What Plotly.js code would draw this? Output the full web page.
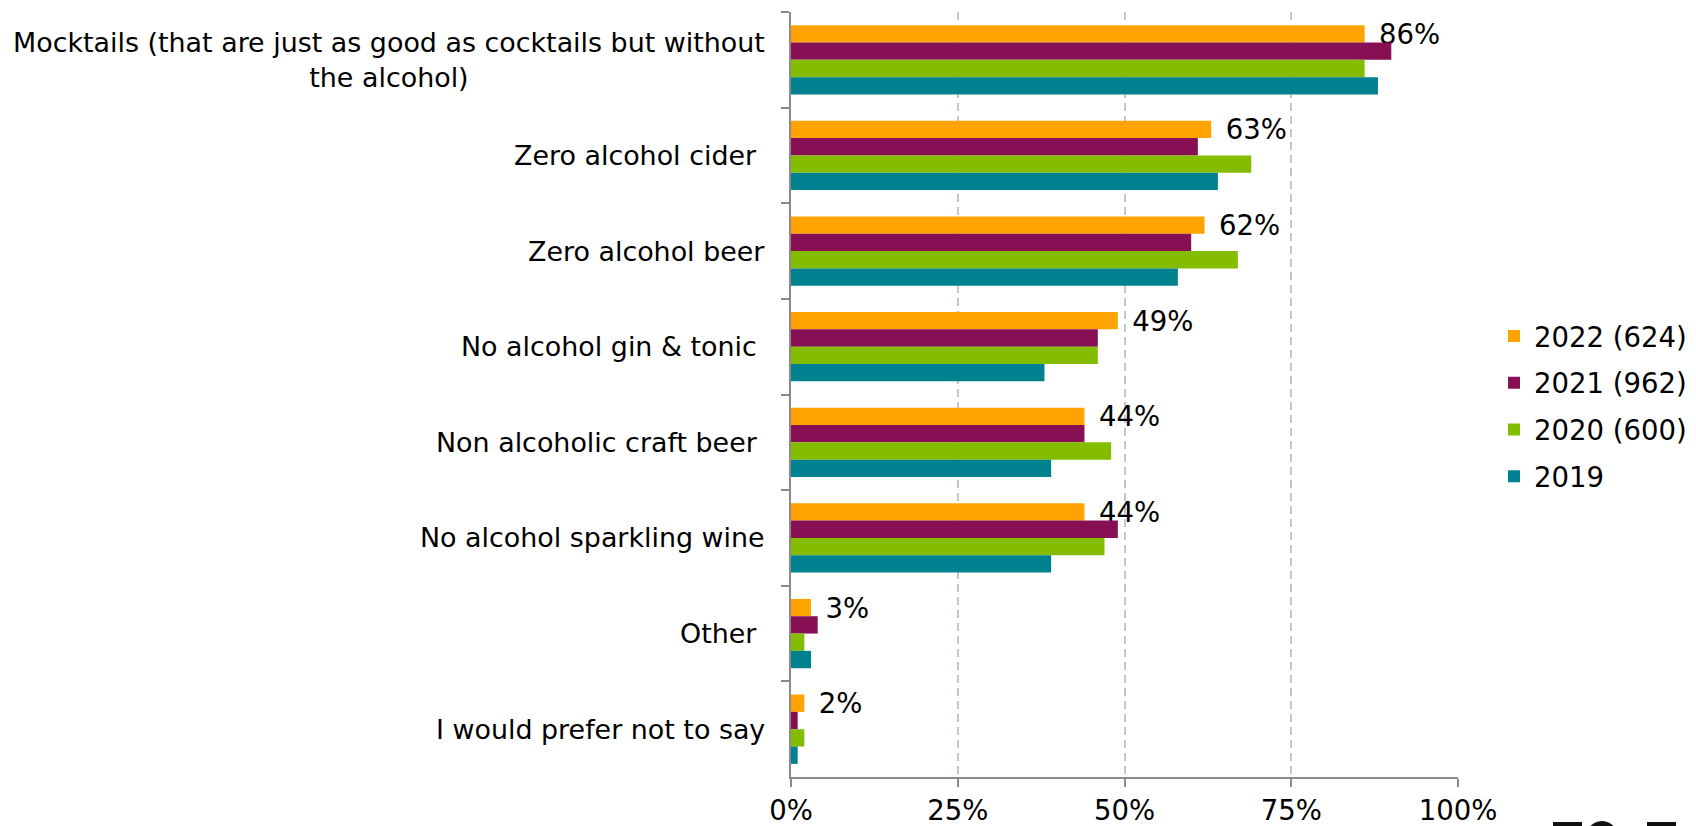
<!DOCTYPE html>
<html>
<head>
<meta charset="utf-8">
<script src="https://cdn.plot.ly/plotly-3.0.1.min.js"></script>
<style>
  html, body { margin: 0; padding: 0; background: #fff; }
  #chart { width: 1696px; height: 826px; }
</style>
</head>
<body>
<div id="chart"></div>
<script>
// Preferred non-alcoholic drinks, share of respondents by survey year
const categories = [
  "Mocktails (that are just as good as cocktails but without<br>the alcohol)",
  "Zero alcohol cider\u00a0",
  "Zero alcohol beer",
  "No alcohol gin & tonic\u00a0",
  "Non alcoholic craft beer\u00a0",
  "No alcohol sparkling wine",
  "Other\u00a0",
  "I would prefer not to say"
];

const seriesNames = ["2022 (624)", "2021 (962)", "2020 (600)", "2019"];

const values2022 = [86, 63, 62, 49, 44, 44, 3, 2];
const values2021 = [90, 61, 60, 46, 44, 49, 4, 1];
const values2020 = [86, 69, 67, 46, 48, 47, 2, 2];
const values2019 = [88, 64, 58, 38, 39, 39, 3, 1];

const xTicks = [0, 25, 50, 75, 100];
const xTickLabels = ["0%", "25%", "50%", "75%", "100%"];

const seriesValues = [values2022, values2021, values2020, values2019];
const seriesColors = ["#FFA300", "#870F54", "#84BD00", "#00818F"];

const FONT = "DejaVu Sans, Verdana, sans-serif";
const FS = 27.5;      // ticks, legend, value labels
const FS_CAT = 26.9;  // category labels

// plot-area geometry in pixels
const M = { l: 791, r: 238, t: 12, b: 49, autoexpand: false };
const W = 1696 - M.l - M.r;
const H = 826 - M.t - M.b;
const px = x => (x - M.l) / W;
const py = y => (826 - M.b - y) / H;

const traces = seriesNames.map((name, i) => ({
  type: "bar",
  orientation: "h",
  name: name,
  y: categories,
  x: seriesValues[i],
  marker: { color: seriesColors[i], line: { width: 0 } },
  // only the latest year carries value labels
  texttemplate: i === 0 ? "\u00a0\u200a%{x:.0f}%" : "",
  textposition: i === 0 ? "outside" : "none",
  constraintext: "none",
  cliponaxis: false,
  textfont: { family: FONT, size: FS, color: "#000" },
  hoverinfo: "skip",
  legendgroup: "g" + i
}));

// category labels, centred line by line and right-aligned to the axis
const labelAnnotations = categories.map(c => ({
  xref: "paper", yref: "y",
  x: 0, y: c,
  xanchor: "right", yanchor: "middle",
  xshift: -24,
  align: "center",
  text: c,
  showarrow: false,
  font: { family: FONT, size: FS_CAT, color: "#000" }
}));

// corner logo fragment
const logoShapes = [
  { type: "rect", x0: px(1553), x1: px(1582), y0: py(822), y1: py(840) },
  { type: "circle", x0: px(1583), x1: px(1621), y0: py(821), y1: py(870) },
  { type: "rect", x0: px(1647), x1: px(1676), y0: py(822), y1: py(840) }
].map(s => Object.assign(s, {
  xref: "paper", yref: "paper",
  fillcolor: "#111", line: { width: 0 }, layer: "above"
}));

const layout = {
  width: 1696,
  height: 826,
  margin: M,
  paper_bgcolor: "#fff",
  plot_bgcolor: "#fff",
  barmode: "group",
  bargap: 0.275,
  bargroupgap: 0,
  font: { family: FONT, size: FS, color: "#000" },
  xaxis: {
    range: [0, 100],
    tickmode: "array",
    tickvals: xTicks,
    ticktext: xTickLabels,
    showgrid: true,
    gridcolor: "#C0C8C6",
    gridwidth: 2,
    griddash: "8px,5px",
    zeroline: false,
    showline: true,
    linecolor: "#8A8A8A",
    linewidth: 2,
    ticks: "outside",
    ticklen: 8,
    tickwidth: 2,
    tickcolor: "#8A8A8A",
    tickfont: { family: FONT, size: FS, color: "#000" },
    automargin: false,
    fixedrange: true
  },
  yaxis: {
    type: "category",
    range: [7.5, -0.5],
    showticklabels: false,
    showgrid: false,
    zeroline: false,
    showline: true,
    linecolor: "#8A8A8A",
    linewidth: 2,
    ticks: "outside",
    tickson: "boundaries",
    ticklen: 8,
    tickwidth: 2,
    tickcolor: "#8A8A8A",
    automargin: false,
    fixedrange: true
  },
  showlegend: true,
  legend: {
    x: px(1494), xanchor: "left",
    y: py(406), yanchor: "middle",
    traceorder: "grouped",
    tracegroupgap: 8,
    font: { family: FONT, size: FS, color: "#000" },
    bgcolor: "rgba(0,0,0,0)",
    borderwidth: 0
  },
  annotations: labelAnnotations,
  shapes: logoShapes
};

Plotly.newPlot("chart", traces, layout, { staticPlot: true, displayModeBar: false });
</script>
</body>
</html>
